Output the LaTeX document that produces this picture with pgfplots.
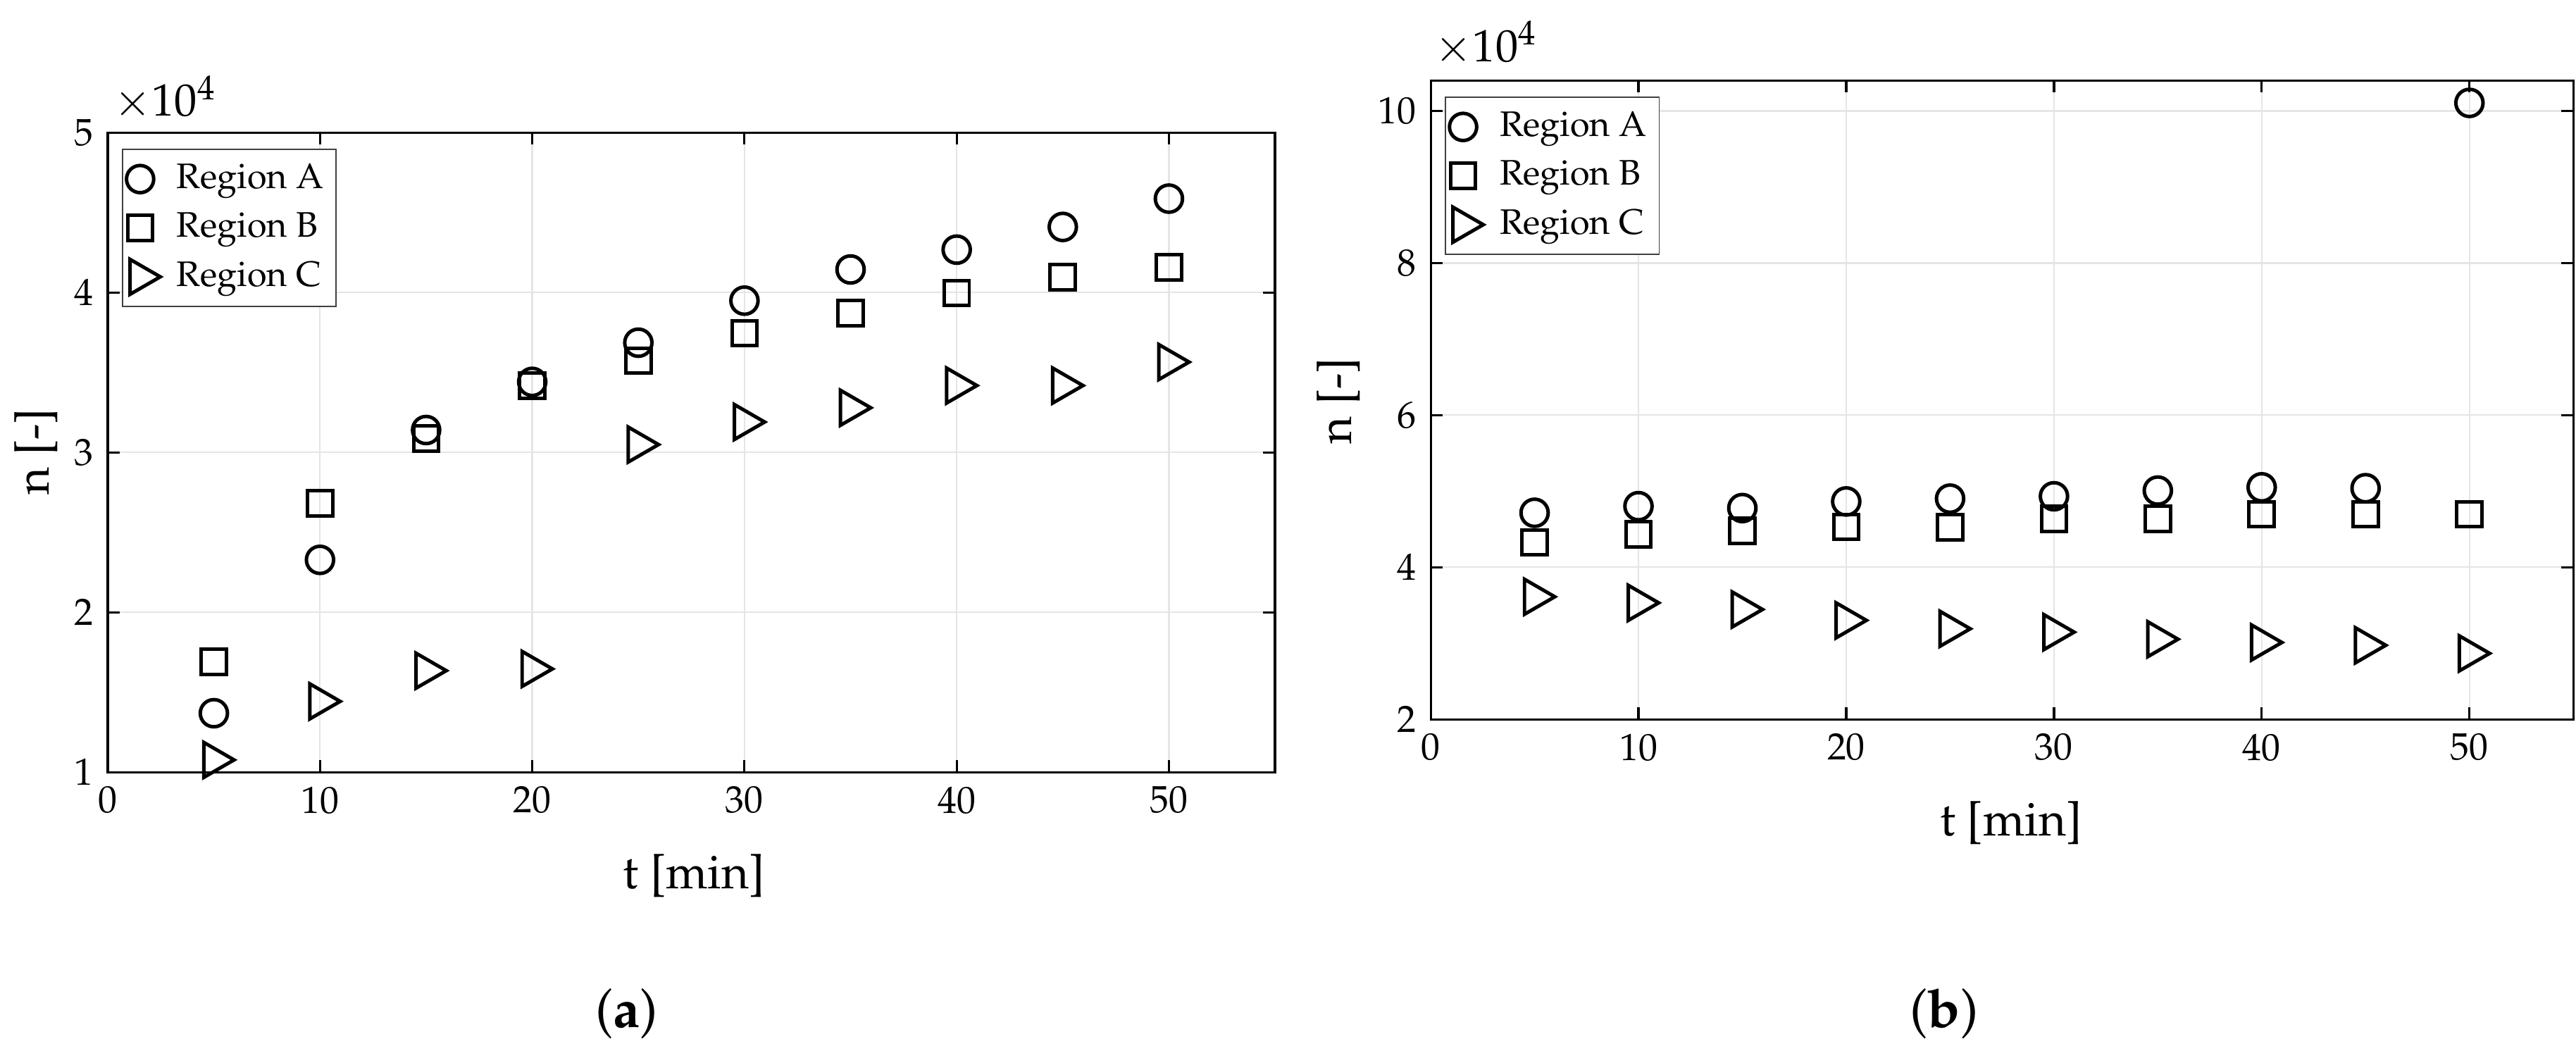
\documentclass[border=0pt]{standalone}
\usepackage[T1]{fontenc}
\usepackage{mathpazo}
\usepackage{pgfplots}
\pgfplotsset{compat=1.18}

\pgfplotsset{
  panel/.style={
    scale only axis, xmin=0, xmax=55, xtick={0,10,...,50},
    grid=major, grid style={gray!20, line width=0.4pt},
    tick align=inside, major tick length=2.9pt,
    axis line style={line width=0.55pt},
    every tick/.style={black, line width=0.55pt},
    tick label style={font=\fontsize{9.2}{11}\selectfont},
    legend cell align=left,
    legend style={at={(0,1)}, anchor=north west, xshift=3.4pt, yshift=-3.9pt,
      draw=black!75, line width=0.3pt, font=\fontsize{8.6}{10}\selectfont,
      row sep=0.4pt, inner xsep=1pt, inner ysep=1.5pt,
      /tikz/column 1/.style={column sep=2pt}},
  },
  mk/.style={only marks, black, line width=0.85pt,
    legend image code/.code={\draw[mark repeat=2,mark phase=2,##1] plot coordinates {(0cm,0cm) (0.22cm,0cm) (0.44cm,0cm)};}},
  sA/.style={mk, mark=o, mark size=3.3pt},
  sB/.style={mk, mark=square, mark size=3.05pt},
  sC/.style={mk, mark=triangle, mark size=4.9pt, mark options={rotate=-90}},
}

\begin{document}
\begin{tikzpicture}
\path[use as bounding box] (0,0) rectangle (625.1pt,254.9pt);

% (a)
\begin{axis}[panel, at={(26.15pt,67.52pt)}, anchor=south west,
  width=283.25pt, height=155.21pt, ymin=1, ymax=5, ytick={1,2,3,4,5}]
\addplot[sA] coordinates {(5,1.369) (10,2.328) (15,3.140) (20,3.441) (25,3.686)
  (30,3.949) (35,4.144) (40,4.268) (45,4.410) (50,4.587)};
\addlegendentry{Region A}
\addplot[sB] coordinates {(5,1.691) (10,2.683) (15,3.087) (20,3.418) (25,3.574)
  (30,3.745) (35,3.872) (40,3.996) (45,4.097) (50,4.156)};
\addlegendentry{Region B}
\addplot[sC] coordinates {(5,1.077) (10,1.443) (15,1.635) (20,1.646) (25,3.049)
  (30,3.190) (35,3.279) (40,3.418) (45,3.418) (50,3.565)};
\addlegendentry{Region C}
\end{axis}

% (b)
\begin{axis}[panel, at={(347.18pt,80.34pt)}, anchor=south west,
  width=277.26pt, height=155.04pt, ymin=2, ymax=10.4, ytick={2,4,6,8,10}]
\addplot[sA] coordinates {(5,4.716) (10,4.803) (15,4.778) (20,4.865) (25,4.902)
  (30,4.933) (35,5.008) (40,5.051) (45,5.039) (50,10.105)};
\addlegendentry{Region A}
\addplot[sB] coordinates {(5,4.326) (10,4.431) (15,4.481) (20,4.530) (25,4.524)
  (30,4.636) (35,4.636) (40,4.698) (45,4.698) (50,4.698)};
\addlegendentry{Region B}
\addplot[sC] coordinates {(5,3.612) (10,3.532) (15,3.445) (20,3.302) (25,3.191)
  (30,3.147) (35,3.054) (40,3.011) (45,2.974) (50,2.868)};
\addlegendentry{Region C}
\end{axis}

% labels
\begingroup
\fontsize{11.5}{13}\selectfont
\node[rotate=90, inner sep=0pt] at (8.72pt,145.3pt) {n [-]};
\node[rotate=90, inner sep=0pt] at (324.8pt,157.6pt) {n [-]};
\node[inner sep=0pt] at (168.4pt,42.4pt) {t [min]};
\node[inner sep=0pt] at (488.0pt,55.2pt) {t [min]};
\endgroup
\node[anchor=base west, inner sep=0pt, font=\fontsize{11}{12}\selectfont] at (27.5pt,226.8pt) {$\times10^4$};
\node[anchor=base west, inner sep=0pt, font=\fontsize{11}{12}\selectfont] at (348.0pt,240.0pt) {$\times10^4$};
\node[inner sep=0pt, font=\fontsize{13}{15}\selectfont] at (152.1pt,8.9pt) {(\textbf{a})};
\node[inner sep=0pt, font=\fontsize{13}{15}\selectfont] at (471.8pt,8.9pt) {(\textbf{b})};
\end{tikzpicture}
\end{document}
